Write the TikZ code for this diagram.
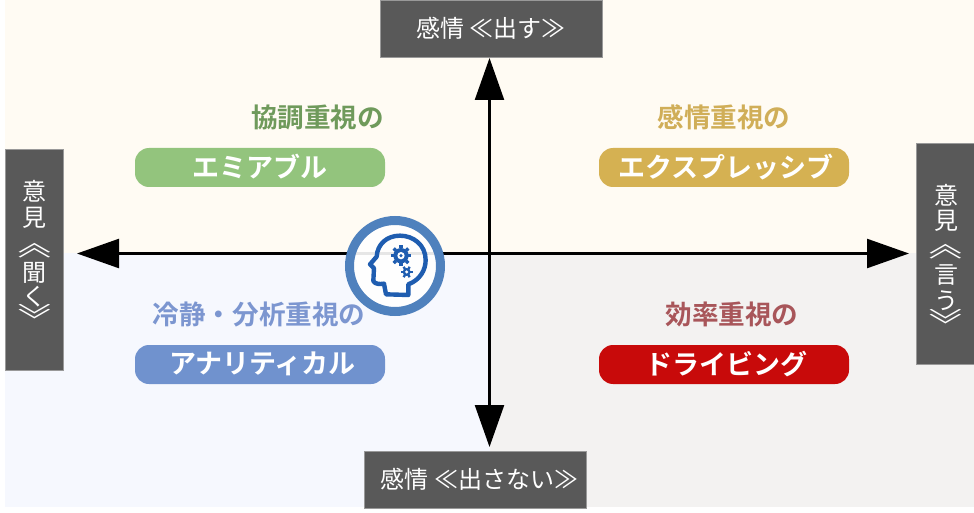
\documentclass[tikz,border=0pt]{standalone}
\usepackage{fontspec}
\setmainfont{Noto Sans CJK JP}
\newfontfamily\jpbold{Noto Sans CJK JP Bold}
\usetikzlibrary{arrows.meta}
\definecolor{bgcream}{HTML}{FFFBF3}
\definecolor{bgblue}{HTML}{F6F8FE}
\definecolor{bggray}{HTML}{F3F2F1}
\definecolor{boxgray}{HTML}{595959}
\definecolor{ringblue}{HTML}{4F81BD}
\definecolor{iconblue}{HTML}{1F5DB0}
\newcommand{\rotsym}[2]{\raisebox{#1pt}{\rotatebox[origin=c]{-90}{\scalebox{.68}[1.7]{#2}}}}
\newcommand{\pilltext}[2]{\hspace*{#1pt}\raisebox{3pt}{#2}}
\newcommand{\slotline}[2]{\hbox to 58pt{\hskip2pt\hss\smash{#2}\rule{0pt}{#1pt}\hss}}
\tikzset{
  x=1pt,y=-1pt,
  headbox/.style={fill=boxgray,draw=black!40,line width=.5pt,minimum width=222pt,minimum height=57pt,text=white,inner sep=0pt,font=\fontsize{24}{28}\selectfont},
  sidebox/.style={fill=boxgray,draw=black!40,line width=.5pt,minimum width=58pt,minimum height=221pt,text=white,inner sep=0pt,font=\fontsize{24}{28}\selectfont},
  pill/.style={rounded corners=14pt,minimum width=250pt,minimum height=39pt,inner sep=0pt,text=white,font=\jpbold\fontsize{27}{30}\selectfont},
  title/.style={inner sep=0pt,font=\jpbold\fontsize{26.6}{30}\selectfont},
  axis/.style={line width=2.4pt,{Triangle[length=42pt,width=29pt]}-{Triangle[length=42pt,width=29pt]}},
}
\begin{document}
\begin{tikzpicture}
\useasboundingbox (0,0) rectangle (974,513);
\fill[bgcream] (5,0) rectangle (974,253);
\fill[bgblue] (5,253) rectangle (490,507);
\fill[bggray] (490,253) rectangle (974,507);
\coordinate (lefttip) at (77,253.5);
\coordinate (righttip) at (909,253.5);
\coordinate (toptip) at (489.5,58);
\coordinate (bottip) at (489.5,447);
\draw[axis] (lefttip) -- (righttip);
\draw[axis] (toptip) -- (bottip);
\node[headbox] (top) at (491,28.5) {感情 ≪出す≫};
\node[headbox] (bottom) at (475,479.5) {\hspace*{9pt}感情 ≪出さない≫};
\node[sidebox] (left) at (34,259.5) {\vbox{\offinterlineskip\slotline{6.5}{意}\slotline{26}{見}\slotline{37}{\rotsym{-2}{≪}}\slotline{18}{聞}\slotline{23.5}{く}\slotline{20}{\rotsym{-2}{≫}}}};
\node[sidebox] (right) at (945,253.5) {\vbox{\offinterlineskip\slotline{27}{意}\slotline{25}{見}\slotline{35}{\rotsym{-2}{≪}}\slotline{18.5}{言}\slotline{26.5}{う}\slotline{20}{\rotsym{-2}{≫}}}};
\node[pill,fill={rgb,255:red,147;green,196;blue,125}] (amiable) at (260,167.5) {\pilltext{0}{エミアブル}};
\node[pill,fill={rgb,255:red,213;green,177;blue,82}] (express) at (724,167.5) {\pilltext{4}{エクスプレッシブ}};
\node[pill,fill={rgb,255:red,112;green,146;blue,206}] (analytic) at (260,364.5) {\pilltext{5}{アナリティカル}};
\node[pill,fill={rgb,255:red,200;green,10;blue,10}] (driving) at (724,364.5) {\pilltext{4}{ドライビング}};
\node[title,text={rgb,255:red,111;green,154;blue,91}] (t1) at (317.5,117) {協調重視の};
\node[title,text={rgb,255:red,208;green,174;blue,88}] (t2) at (724,117) {感情重視の};
\node[title,text={rgb,255:red,124;green,150;blue,208}] (t3) at (259,314) {冷静・分析重視の};
\node[title,text={rgb,255:red,168;green,86;blue,90}] (t4) at (732,314) {効率重視の};
\node[circle,draw=ringblue,fill=white,fill opacity=.9,line width=9pt,minimum size=91pt,inner sep=0pt] (ring) at (395,266) {};
\begin{scope}[xshift=340pt,yshift=-205pt,x=.3333pt,y=-.3333pt]
\draw[iconblue,line width=4.4pt,line join=round,line cap=round]
 (205,270) -- (205,238) .. controls (240,225) and (257,195) .. (257,165)
 .. controls (257,120) and (220,92) .. (180,92)
 .. controls (140,92) and (112,118) .. (110,155)
 -- (90,178) -- (102,190) -- (100,228) .. controls (105,238) and (120,238) .. (132,236) -- (138,268) -- cycle;
\foreach \a in {0,45,...,315}{
 \fill[iconblue] (183,152) ++(\a:22) ++(\a+90:5) -- ++(\a:9) -- ++(\a-90:10) -- ++(\a+180:9) -- cycle;
}
\fill[iconblue] (183,152) circle[radius=23];
\fill[white] (183,152) circle[radius=11];
\fill[iconblue] (183,152) circle[radius=5];
\foreach \a in {0,60,...,300}{
 \fill[iconblue] (200,201) ++(\a:10) ++(\a+90:3.5) -- ++(\a:8) -- ++(\a-90:7) -- ++(\a+180:8) -- cycle;
}
\fill[iconblue] (200,201) circle[radius=12];
\fill[white] (200,201) circle[radius=5];
\end{scope}
\end{tikzpicture}
\end{document}
